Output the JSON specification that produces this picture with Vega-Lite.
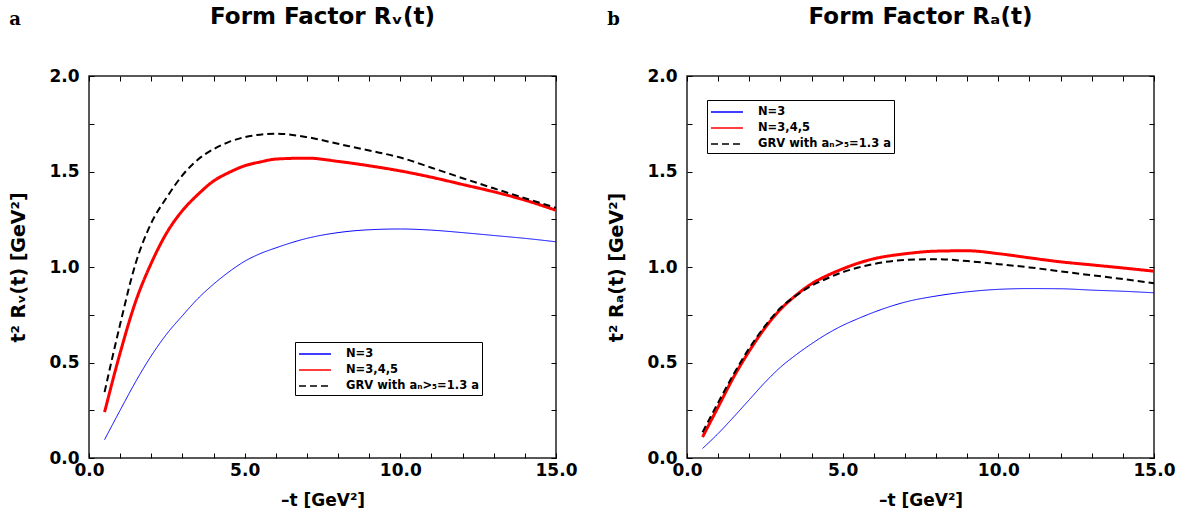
{
  "$schema": "https://vega.github.io/schema/vega-lite/v6.json",
  "background": "white",
  "padding": {"left": 9, "top": 5, "right": 5, "bottom": 5},
  "config": {
    "view": {"stroke": "#222", "strokeWidth": 1.5},
    "axis": {
      "labelFont": "DejaVu Sans", "labelFontWeight": "bold", "labelFontSize": 17, "labelColor": "#000",
      "titleFont": "DejaVu Sans", "titleFontWeight": "bold", "titleFontSize": 17, "titleColor": "#000",
      "domain": false, "grid": false, "ticks": true, "tickColor": "#000", "tickWidth": 1, "tickOpacity": 1, "labelOverlap": false
    },
    "legend": {
      "labelFont": "DejaVu Sans", "labelFontWeight": "bold", "labelFontSize": 11.5, "labelColor": "#000",
      "symbolType": "M-1,0L3,0", "symbolSize": 256, "strokeColor": "#000", "fillColor": "#fff",
      "padding": 3, "rowPadding": 1, "labelOffset": 30, "cornerRadius": 0
    },
    "line": {"interpolate": "monotone"}
  },
  "datasets": {
    "rv": [
      {"t": 0.5, "value": 0.096, "series": "N=3"}, {"t": 1, "value": 0.25, "series": "N=3"}, {"t": 1.5, "value": 0.4, "series": "N=3"}, {"t": 2, "value": 0.535, "series": "N=3"}, {"t": 2.5, "value": 0.65, "series": "N=3"}, {"t": 3, "value": 0.745, "series": "N=3"}, {"t": 3.5, "value": 0.835, "series": "N=3"}, {"t": 4, "value": 0.91, "series": "N=3"}, {"t": 4.5, "value": 0.975, "series": "N=3"}, {"t": 5, "value": 1.03, "series": "N=3"}, {"t": 5.5, "value": 1.07, "series": "N=3"}, {"t": 6, "value": 1.1, "series": "N=3"}, {"t": 7, "value": 1.15, "series": "N=3"}, {"t": 8, "value": 1.18, "series": "N=3"}, {"t": 9, "value": 1.195, "series": "N=3"}, {"t": 10, "value": 1.199, "series": "N=3"}, {"t": 11, "value": 1.193, "series": "N=3"}, {"t": 12, "value": 1.18, "series": "N=3"}, {"t": 13, "value": 1.165, "series": "N=3"}, {"t": 14, "value": 1.15, "series": "N=3"}, {"t": 15, "value": 1.132, "series": "N=3"},
      {"t": 0.5, "value": 0.24, "series": "N=3,4,5"}, {"t": 1, "value": 0.55, "series": "N=3,4,5"}, {"t": 1.5, "value": 0.82, "series": "N=3,4,5"}, {"t": 2, "value": 1.02, "series": "N=3,4,5"}, {"t": 2.5, "value": 1.18, "series": "N=3,4,5"}, {"t": 3, "value": 1.295, "series": "N=3,4,5"}, {"t": 3.5, "value": 1.38, "series": "N=3,4,5"}, {"t": 4, "value": 1.45, "series": "N=3,4,5"}, {"t": 4.5, "value": 1.495, "series": "N=3,4,5"}, {"t": 5, "value": 1.53, "series": "N=3,4,5"}, {"t": 5.5, "value": 1.55, "series": "N=3,4,5"}, {"t": 6, "value": 1.565, "series": "N=3,4,5"}, {"t": 7, "value": 1.57, "series": "N=3,4,5"}, {"t": 8, "value": 1.553, "series": "N=3,4,5"}, {"t": 9, "value": 1.53, "series": "N=3,4,5"}, {"t": 10, "value": 1.503, "series": "N=3,4,5"}, {"t": 11, "value": 1.47, "series": "N=3,4,5"}, {"t": 12, "value": 1.432, "series": "N=3,4,5"}, {"t": 13, "value": 1.394, "series": "N=3,4,5"}, {"t": 14, "value": 1.35, "series": "N=3,4,5"}, {"t": 15, "value": 1.297, "series": "N=3,4,5"},
      {"t": 0.5, "value": 0.345, "series": "GRV with aₙ>₅=1.3 a"}, {"t": 1, "value": 0.7, "series": "GRV with aₙ>₅=1.3 a"}, {"t": 1.5, "value": 1.02, "series": "GRV with aₙ>₅=1.3 a"}, {"t": 2, "value": 1.23, "series": "GRV with aₙ>₅=1.3 a"}, {"t": 2.5, "value": 1.365, "series": "GRV with aₙ>₅=1.3 a"}, {"t": 3, "value": 1.48, "series": "GRV with aₙ>₅=1.3 a"}, {"t": 3.5, "value": 1.563, "series": "GRV with aₙ>₅=1.3 a"}, {"t": 4, "value": 1.617, "series": "GRV with aₙ>₅=1.3 a"}, {"t": 4.5, "value": 1.655, "series": "GRV with aₙ>₅=1.3 a"}, {"t": 5, "value": 1.68, "series": "GRV with aₙ>₅=1.3 a"}, {"t": 5.5, "value": 1.693, "series": "GRV with aₙ>₅=1.3 a"}, {"t": 6, "value": 1.698, "series": "GRV with aₙ>₅=1.3 a"}, {"t": 7, "value": 1.68, "series": "GRV with aₙ>₅=1.3 a"}, {"t": 8, "value": 1.645, "series": "GRV with aₙ>₅=1.3 a"}, {"t": 9, "value": 1.61, "series": "GRV with aₙ>₅=1.3 a"}, {"t": 10, "value": 1.573, "series": "GRV with aₙ>₅=1.3 a"}, {"t": 11, "value": 1.52, "series": "GRV with aₙ>₅=1.3 a"}, {"t": 12, "value": 1.465, "series": "GRV with aₙ>₅=1.3 a"}, {"t": 13, "value": 1.412, "series": "GRV with aₙ>₅=1.3 a"}, {"t": 14, "value": 1.36, "series": "GRV with aₙ>₅=1.3 a"}, {"t": 15, "value": 1.31, "series": "GRV with aₙ>₅=1.3 a"}
    ],
    "ra": [
      {"t": 0.5, "value": 0.05, "series": "N=3"}, {"t": 1, "value": 0.128, "series": "N=3"}, {"t": 1.5, "value": 0.215, "series": "N=3"}, {"t": 2, "value": 0.305, "series": "N=3"}, {"t": 2.5, "value": 0.395, "series": "N=3"}, {"t": 3, "value": 0.475, "series": "N=3"}, {"t": 3.5, "value": 0.54, "series": "N=3"}, {"t": 4, "value": 0.598, "series": "N=3"}, {"t": 4.5, "value": 0.65, "series": "N=3"}, {"t": 5, "value": 0.694, "series": "N=3"}, {"t": 5.5, "value": 0.73, "series": "N=3"}, {"t": 6, "value": 0.763, "series": "N=3"}, {"t": 7, "value": 0.816, "series": "N=3"}, {"t": 8, "value": 0.848, "series": "N=3"}, {"t": 9, "value": 0.87, "series": "N=3"}, {"t": 10, "value": 0.883, "series": "N=3"}, {"t": 11, "value": 0.887, "series": "N=3"}, {"t": 12, "value": 0.886, "series": "N=3"}, {"t": 13, "value": 0.879, "series": "N=3"}, {"t": 14, "value": 0.873, "series": "N=3"}, {"t": 15, "value": 0.865, "series": "N=3"},
      {"t": 0.5, "value": 0.11, "series": "N=3,4,5"}, {"t": 1, "value": 0.267, "series": "N=3,4,5"}, {"t": 1.5, "value": 0.424, "series": "N=3,4,5"}, {"t": 2, "value": 0.56, "series": "N=3,4,5"}, {"t": 2.5, "value": 0.68, "series": "N=3,4,5"}, {"t": 3, "value": 0.778, "series": "N=3,4,5"}, {"t": 3.5, "value": 0.852, "series": "N=3,4,5"}, {"t": 4, "value": 0.912, "series": "N=3,4,5"}, {"t": 4.5, "value": 0.955, "series": "N=3,4,5"}, {"t": 5, "value": 0.99, "series": "N=3,4,5"}, {"t": 5.5, "value": 1.02, "series": "N=3,4,5"}, {"t": 6, "value": 1.043, "series": "N=3,4,5"}, {"t": 7, "value": 1.069, "series": "N=3,4,5"}, {"t": 8, "value": 1.083, "series": "N=3,4,5"}, {"t": 9, "value": 1.085, "series": "N=3,4,5"}, {"t": 10, "value": 1.07, "series": "N=3,4,5"}, {"t": 11, "value": 1.048, "series": "N=3,4,5"}, {"t": 12, "value": 1.027, "series": "N=3,4,5"}, {"t": 13, "value": 1.011, "series": "N=3,4,5"}, {"t": 14, "value": 0.995, "series": "N=3,4,5"}, {"t": 15, "value": 0.978, "series": "N=3,4,5"},
      {"t": 0.5, "value": 0.135, "series": "GRV with aₙ>₅=1.3 a"}, {"t": 1, "value": 0.29, "series": "GRV with aₙ>₅=1.3 a"}, {"t": 1.5, "value": 0.44, "series": "GRV with aₙ>₅=1.3 a"}, {"t": 2, "value": 0.575, "series": "GRV with aₙ>₅=1.3 a"}, {"t": 2.5, "value": 0.69, "series": "GRV with aₙ>₅=1.3 a"}, {"t": 3, "value": 0.785, "series": "GRV with aₙ>₅=1.3 a"}, {"t": 3.5, "value": 0.85, "series": "GRV with aₙ>₅=1.3 a"}, {"t": 4, "value": 0.902, "series": "GRV with aₙ>₅=1.3 a"}, {"t": 4.5, "value": 0.94, "series": "GRV with aₙ>₅=1.3 a"}, {"t": 5, "value": 0.973, "series": "GRV with aₙ>₅=1.3 a"}, {"t": 5.5, "value": 0.997, "series": "GRV with aₙ>₅=1.3 a"}, {"t": 6, "value": 1.016, "series": "GRV with aₙ>₅=1.3 a"}, {"t": 7, "value": 1.037, "series": "GRV with aₙ>₅=1.3 a"}, {"t": 8, "value": 1.041, "series": "GRV with aₙ>₅=1.3 a"}, {"t": 9, "value": 1.031, "series": "GRV with aₙ>₅=1.3 a"}, {"t": 10, "value": 1.015, "series": "GRV with aₙ>₅=1.3 a"}, {"t": 11, "value": 0.998, "series": "GRV with aₙ>₅=1.3 a"}, {"t": 12, "value": 0.977, "series": "GRV with aₙ>₅=1.3 a"}, {"t": 13, "value": 0.957, "series": "GRV with aₙ>₅=1.3 a"}, {"t": 14, "value": 0.937, "series": "GRV with aₙ>₅=1.3 a"}, {"t": 15, "value": 0.915, "series": "GRV with aₙ>₅=1.3 a"}
    ]
  },
  "spacing": 29,
  "resolve": {
    "scale": {"color": "independent", "strokeDash": "independent"},
    "legend": {"color": "independent", "strokeDash": "independent"}
  },
  "hconcat": [
    {
      "title": {"text": "a", "anchor": "start", "frame": "bounds", "font": "DejaVu Serif", "fontSize": 18, "fontWeight": "bold", "color": "#000", "offset": -24},
      "vconcat": [
        {
          "title": {"text": "Form Factor Rᵥ(t)", "anchor": "middle", "font": "DejaVu Sans", "fontSize": 23, "fontWeight": "bold", "color": "#000", "offset": 38},
          "width": 467, "height": 382,
          "data": {"name": "rv"},
          "resolve": {"axis": {"x": "independent", "y": "independent"}},
          "layer": [
            {
              "transform": [{"filter": "datum.series !== 'GRV with aₙ>₅=1.3 a'"}],
              "mark": {"type": "line", "clip": true},
              "encoding": {
                "x": {"field": "t", "type": "quantitative", "scale": {"domain": [0, 15], "nice": false},
                  "axis": {"orient": "bottom", "values": [0,1,2,3,4,5,6,7,8,9,10,11,12,13,14,15], "tickSize": -5, "labelFlush": false, "labelPadding": 9,
                    "labelExpr": "datum.value % 5 === 0 ? format(datum.value, '.1f') : ''", "title": "–t [GeV²]", "titlePadding": 14}},
                "y": {"field": "value", "type": "quantitative", "scale": {"domain": [0, 2], "nice": false},
                  "axis": {"orient": "left", "values": [0,0.25,0.5,0.75,1,1.25,1.5,1.75,2], "tickSize": -5, "labelPadding": 15,
                    "labelExpr": "(datum.value * 2) % 1 === 0 ? format(datum.value, '.1f') : ''", "title": "t² Rᵥ(t) [GeV²]", "titlePadding": 20, "titleFontSize": 19}},
                "color": {"field": "series", "type": "nominal", "scale": {"domain": ["N=3", "N=3,4,5", "GRV with aₙ>₅=1.3 a"], "range": ["#0000ff", "#ff0000", "#000000"]},
                  "legend": {"title": null, "orient": "none", "legendX": 206, "legendY": 266}},
                "strokeDash": {"field": "series", "type": "nominal", "scale": {"domain": ["N=3", "N=3,4,5", "GRV with aₙ>₅=1.3 a"], "range": [[1, 0], [1, 0], [7, 4]]}, "legend": {"title": null, "orient": "none", "legendX": 206, "legendY": 266}},
                "strokeWidth": {"condition": {"test": "datum.series === 'N=3'", "value": 1}, "value": 3}
              }
            },
            {
              "transform": [{"filter": "datum.series === 'GRV with aₙ>₅=1.3 a'"}],
              "mark": {"type": "line", "clip": true, "strokeWidth": 2},
              "encoding": {
                "x": {"field": "t", "type": "quantitative",
                  "axis": {"orient": "top", "values": [0,1,2,3,4,5,6,7,8,9,10,11,12,13,14,15], "tickSize": -5, "labels": false, "title": null}},
                "y": {"field": "value", "type": "quantitative",
                  "axis": {"orient": "right", "values": [0,0.25,0.5,0.75,1,1.25,1.5,1.75,2], "tickSize": -5, "labels": false, "title": null}},
                "color": {"field": "series", "type": "nominal"},
                "strokeDash": {"field": "series", "type": "nominal"}
              }
            }
          ]
        }
      ]
    },
    {
      "title": {"text": "b", "anchor": "start", "frame": "bounds", "font": "DejaVu Serif", "fontSize": 18, "fontWeight": "bold", "color": "#000", "offset": -24},
      "vconcat": [
        {
          "title": {"text": "Form Factor Rₐ(t)", "anchor": "middle", "font": "DejaVu Sans", "fontSize": 23, "fontWeight": "bold", "color": "#000", "offset": 38},
          "width": 467, "height": 382,
          "data": {"name": "ra"},
          "resolve": {"axis": {"x": "independent", "y": "independent"}},
          "layer": [
            {
              "transform": [{"filter": "datum.series !== 'GRV with aₙ>₅=1.3 a'"}],
              "mark": {"type": "line", "clip": true},
              "encoding": {
                "x": {"field": "t", "type": "quantitative", "scale": {"domain": [0, 15], "nice": false},
                  "axis": {"orient": "bottom", "values": [0,1,2,3,4,5,6,7,8,9,10,11,12,13,14,15], "tickSize": -5, "labelFlush": false, "labelPadding": 9,
                    "labelExpr": "datum.value % 5 === 0 ? format(datum.value, '.1f') : ''", "title": "–t [GeV²]", "titlePadding": 14}},
                "y": {"field": "value", "type": "quantitative", "scale": {"domain": [0, 2], "nice": false},
                  "axis": {"orient": "left", "values": [0,0.25,0.5,0.75,1,1.25,1.5,1.75,2], "tickSize": -5, "labelPadding": 15,
                    "labelExpr": "(datum.value * 2) % 1 === 0 ? format(datum.value, '.1f') : ''", "title": "t² Rₐ(t) [GeV²]", "titlePadding": 20, "titleFontSize": 19}},
                "color": {"field": "series", "type": "nominal", "scale": {"domain": ["N=3", "N=3,4,5", "GRV with aₙ>₅=1.3 a"], "range": ["#0000ff", "#ff0000", "#000000"]},
                  "legend": {"title": null, "orient": "none", "legendX": 20, "legendY": 24}},
                "strokeDash": {"field": "series", "type": "nominal", "scale": {"domain": ["N=3", "N=3,4,5", "GRV with aₙ>₅=1.3 a"], "range": [[1, 0], [1, 0], [7, 4]]}, "legend": {"title": null, "orient": "none", "legendX": 20, "legendY": 24}},
                "strokeWidth": {"condition": {"test": "datum.series === 'N=3'", "value": 1}, "value": 3}
              }
            },
            {
              "transform": [{"filter": "datum.series === 'GRV with aₙ>₅=1.3 a'"}],
              "mark": {"type": "line", "clip": true, "strokeWidth": 2},
              "encoding": {
                "x": {"field": "t", "type": "quantitative",
                  "axis": {"orient": "top", "values": [0,1,2,3,4,5,6,7,8,9,10,11,12,13,14,15], "tickSize": -5, "labels": false, "title": null}},
                "y": {"field": "value", "type": "quantitative",
                  "axis": {"orient": "right", "values": [0,0.25,0.5,0.75,1,1.25,1.5,1.75,2], "tickSize": -5, "labels": false, "title": null}},
                "color": {"field": "series", "type": "nominal"},
                "strokeDash": {"field": "series", "type": "nominal"}
              }
            }
          ]
        }
      ]
    }
  ]
}
